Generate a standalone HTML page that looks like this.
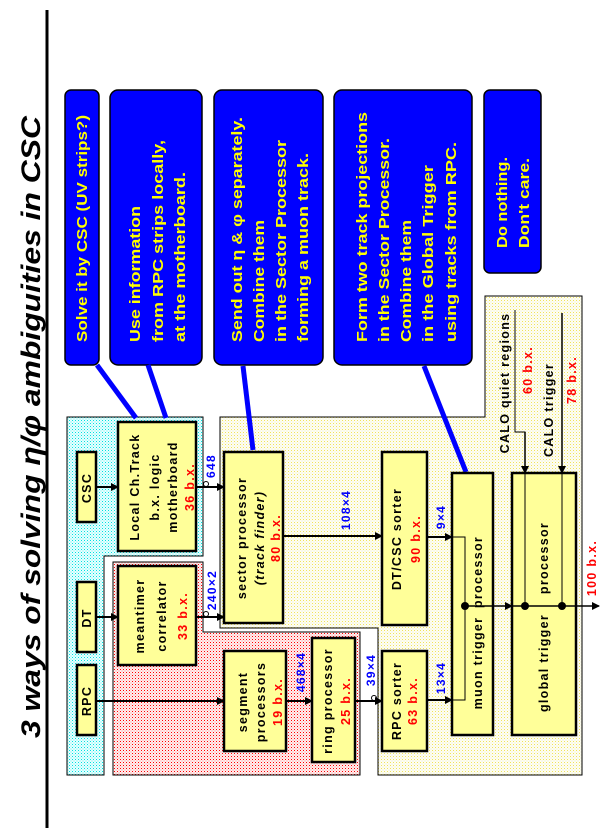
<!DOCTYPE html>
<html><head><meta charset="utf-8"><style>
html,body{margin:0;padding:0;background:#fff}
svg{display:block}
text{font-family:"Liberation Sans",sans-serif;font-weight:bold}
.lb text{letter-spacing:1.3px}
</style></head><body>
<svg width="609" height="840" viewBox="0 0 609 840" xmlns="http://www.w3.org/2000/svg">
<defs>
<pattern id="pc" width="3" height="3" patternUnits="userSpaceOnUse"><rect width="3" height="3" fill="#e8ffff"/><rect width="1" height="1" fill="#00e0e0"/><rect x="1.5" y="1.5" width="1" height="1" fill="#60f0f0"/></pattern>
<pattern id="pr" width="3" height="3" patternUnits="userSpaceOnUse"><rect width="3" height="3" fill="#fff0f0"/><rect width="1" height="1" fill="#f00"/><rect x="1.5" y="1.5" width="1" height="1" fill="#f88"/></pattern>
<pattern id="py" width="3" height="3" patternUnits="userSpaceOnUse"><rect width="3" height="3" fill="#fffff0"/><rect width="1" height="1" fill="#eee060"/><rect x="1.5" y="1.5" width="1" height="1" fill="#e8e8d8"/></pattern>
<marker id="ar" markerWidth="8" markerHeight="8" refX="7" refY="4" orient="auto" markerUnits="userSpaceOnUse"><path d="M0,0 L8,4 L0,8 z" fill="#000"/></marker>
</defs>

<line x1="47" y1="10" x2="47" y2="828" stroke="#000" stroke-width="3"/>
<text transform="translate(40,738) rotate(-90)" font-size="27" font-style="italic" textLength="622" lengthAdjust="spacingAndGlyphs">3 ways of solving η/φ ambiguities in CSC</text>

<path d="M67,417 H203 V556 H104 V775 H67 Z" fill="url(#pc)" stroke="#000" stroke-width="1"/>
<path d="M113,562 H203 V632 H360 V775 H113 Z" fill="url(#pr)" stroke="#000" stroke-width="1"/>
<path d="M220,417 H485 V296 H582 V775 H378 V628 H220 Z" fill="url(#py)" stroke="#000" stroke-width="1"/>

<g fill="#0000ff" stroke="#000" stroke-width="1.5">
<rect x="65" y="90" width="34" height="275" rx="6"/>
<rect x="110" y="90" width="92" height="275" rx="8"/>
<rect x="214" y="90" width="109" height="275" rx="8"/>
<rect x="334" y="90" width="138" height="275" rx="8"/>
<rect x="484" y="90" width="57" height="183" rx="6"/>
</g>
<g stroke="#0000ff" stroke-width="5" fill="none">
<line x1="97" y1="365" x2="136" y2="418"/>
<line x1="148" y1="365" x2="166" y2="418"/>
<line x1="243" y1="366" x2="253" y2="450"/>
<line x1="424" y1="366" x2="466" y2="472"/>
</g>
<g fill="#ffff00" font-size="14.5" lengthAdjust="spacingAndGlyphs">
<text transform="translate(87,342) rotate(-90)" textLength="227" lengthAdjust="spacingAndGlyphs">Solve it by CSC (UV strips?)</text>
<text transform="translate(140,342) rotate(-90)" textLength="136" lengthAdjust="spacingAndGlyphs">Use information</text>
<text transform="translate(163,342) rotate(-90)" textLength="202" lengthAdjust="spacingAndGlyphs">from RPC strips locally,</text>
<text transform="translate(185,342) rotate(-90)" textLength="170" lengthAdjust="spacingAndGlyphs">at the motherboard.</text>
<text transform="translate(242,342) rotate(-90)" textLength="225" lengthAdjust="spacingAndGlyphs">Send out η &amp; φ separately.</text>
<text transform="translate(264,342) rotate(-90)" textLength="122" lengthAdjust="spacingAndGlyphs">Combine them</text>
<text transform="translate(286,342) rotate(-90)" textLength="202" lengthAdjust="spacingAndGlyphs">in the Sector Processor</text>
<text transform="translate(308,342) rotate(-90)" textLength="189" lengthAdjust="spacingAndGlyphs">forming a muon track.</text>
<text transform="translate(367,342) rotate(-90)" textLength="230" lengthAdjust="spacingAndGlyphs">Form two track projections</text>
<text transform="translate(389,342) rotate(-90)" textLength="204" lengthAdjust="spacingAndGlyphs">in the Sector Processor.</text>
<text transform="translate(411,342) rotate(-90)" textLength="122" lengthAdjust="spacingAndGlyphs">Combine them</text>
<text transform="translate(433,342) rotate(-90)" textLength="177" lengthAdjust="spacingAndGlyphs">in the Global Trigger</text>
<text transform="translate(456,342) rotate(-90)" textLength="200" lengthAdjust="spacingAndGlyphs">using tracks from RPC.</text>
<text transform="translate(507,248) rotate(-90)" textLength="91" lengthAdjust="spacingAndGlyphs">Do nothing.</text>
<text transform="translate(529,248) rotate(-90)" textLength="90" lengthAdjust="spacingAndGlyphs">Don't care.</text>
</g>

<g fill="#ffff99" stroke="#000" stroke-width="2.5">
<rect x="77" y="452" width="19" height="70"/>
<rect x="77" y="582" width="19" height="70"/>
<rect x="77" y="665" width="19" height="70"/>
<rect x="118" y="422" width="78" height="129"/>
<rect x="118" y="566" width="78" height="99"/>
<rect x="224" y="651" width="62" height="100"/>
<rect x="312" y="638" width="43" height="124"/>
<rect x="224" y="452" width="59" height="171"/>
<rect x="382" y="452" width="45" height="173"/>
<rect x="382" y="651" width="45" height="100"/>
<rect x="452" y="473" width="41" height="262"/>
<rect x="512" y="473" width="64" height="262"/>
</g>

<g stroke="#000" stroke-width="2" fill="none" marker-end="url(#ar)">
<line x1="96" y1="487" x2="118" y2="487"/>
<line x1="96" y1="617" x2="118" y2="617"/>
<line x1="96" y1="701" x2="224" y2="701"/>
<line x1="196" y1="487" x2="224" y2="487"/>
<line x1="196" y1="617" x2="224" y2="617"/>
<line x1="286" y1="701" x2="312" y2="701"/>
<line x1="355" y1="701" x2="382" y2="701"/>
<line x1="283" y1="536" x2="382" y2="536"/>
<line x1="427" y1="537" x2="452" y2="537"/>
<line x1="427" y1="700" x2="452" y2="700"/>
</g>
<g stroke="#000" stroke-width="1" fill="none">
<circle cx="206" cy="484" r="2.5"/><circle cx="206" cy="614" r="2.5"/><circle cx="374" cy="698" r="2.5"/>
<polyline points="452,537 465,537 465,700 452,700"/>
<polyline points="515,310 515,432 525,432 525,606"/>
<line x1="562" y1="313" x2="562" y2="606"/>
</g>
<g stroke="#000" stroke-width="1.5" fill="none" marker-end="url(#ar)">
<line x1="465" y1="606" x2="512" y2="606"/>
<line x1="525" y1="432" x2="525" y2="473"/>
<line x1="562" y1="313" x2="562" y2="473"/>
<line x1="562" y1="606" x2="599" y2="606"/>
</g>
<line x1="512" y1="606" x2="562" y2="606" stroke="#000" stroke-width="1.5"/>
<g fill="#000"><circle cx="465" cy="606" r="4"/><circle cx="525" cy="606" r="4"/><circle cx="562" cy="606" r="4"/></g>

<g class="lb" font-size="12.5" text-anchor="middle" dominant-baseline="central" fill="#000">
<text transform="translate(87,488) rotate(-90)">CSC</text>
<text transform="translate(87,618) rotate(-90)">DT</text>
<text transform="translate(87,701) rotate(-90)">RPC</text>
<text transform="translate(135,487) rotate(-90)">Local Ch.Track</text>
<text transform="translate(155,487) rotate(-90)">b.x. logic</text>
<text transform="translate(173,487) rotate(-90)">motherboard</text>
<text transform="translate(140,616) rotate(-90)">meantimer</text>
<text transform="translate(162,616) rotate(-90)">correlator</text>
<text transform="translate(243,702) rotate(-90)">segment</text>
<text transform="translate(261,702) rotate(-90)">processors</text>
<text transform="translate(328,701) rotate(-90)">ring processor</text>
<text transform="translate(242,538) rotate(-90)">sector processor</text>
<text transform="translate(260,538) rotate(-90)" font-style="italic" font-weight="normal">(track finder)</text>
<text transform="translate(397,539) rotate(-90)">DT/CSC sorter</text>
<text transform="translate(397,701) rotate(-90)">RPC sorter</text>
<text transform="translate(478,663) rotate(-90)">muon trigger</text>
<text transform="translate(478,572) rotate(-90)">processor</text>
<text transform="translate(544,663) rotate(-90)">global trigger</text>
<text transform="translate(544,558) rotate(-90)">processor</text>
<text transform="translate(505,383) rotate(-90)">CALO quiet regions</text>
<text transform="translate(549,410) rotate(-90)">CALO trigger</text>
</g>
<g class="lb" font-size="12.5" text-anchor="middle" dominant-baseline="central" fill="#ff0000">
<text transform="translate(190,487) rotate(-90)">36 b.x.</text>
<text transform="translate(183,616) rotate(-90)">33 b.x.</text>
<text transform="translate(278,702) rotate(-90)">19 b.x.</text>
<text transform="translate(346,701) rotate(-90)">25 b.x.</text>
<text transform="translate(276,538) rotate(-90)">80 b.x.</text>
<text transform="translate(416,539) rotate(-90)">90 b.x.</text>
<text transform="translate(413,701) rotate(-90)">63 b.x.</text>
<text transform="translate(528,370) rotate(-90)">60 b.x.</text>
<text transform="translate(572,380) rotate(-90)">78 b.x.</text>
<text transform="translate(592,568) rotate(-90)">100 b.x.</text>
</g>
<g class="lb" font-size="12" text-anchor="middle" dominant-baseline="central" fill="#0000ff">
<text transform="translate(211,466) rotate(-90)">648</text>
<text transform="translate(212,590) rotate(-90)">240×2</text>
<text transform="translate(301,672) rotate(-90)">468×4</text>
<text transform="translate(371,670) rotate(-90)">39×4</text>
<text transform="translate(346,510) rotate(-90)">108×4</text>
<text transform="translate(441,517) rotate(-90)">9×4</text>
<text transform="translate(441,678) rotate(-90)">13×4</text>
</g>
</svg>
</body></html>
